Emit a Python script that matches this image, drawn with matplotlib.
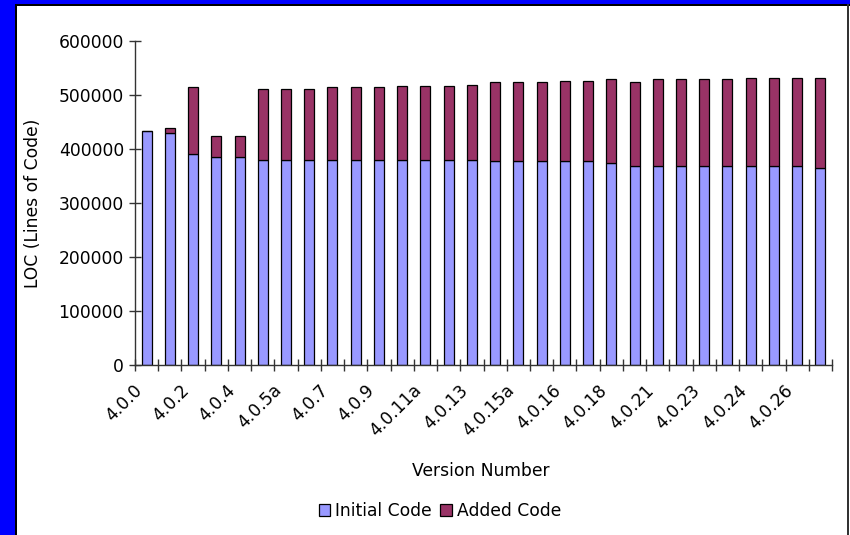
import matplotlib
matplotlib.use("Agg")
import matplotlib.pyplot as plt
from matplotlib.patches import Rectangle
from matplotlib.ticker import FixedLocator, FuncFormatter
from matplotlib.transforms import ScaledTranslation

# Release labels shown along the x axis (every other release is labelled)
tick_labels = ["4.0.0", "4.0.2", "4.0.4", "4.0.5a", "4.0.7", "4.0.9", "4.0.11a",
               "4.0.13", "4.0.15a", "4.0.16", "4.0.18", "4.0.21", "4.0.23",
               "4.0.24", "4.0.26"]

# Lines of code carried over from the initial code base, per release
initial_code = [434000, 429000, 390000, 385000, 385000, 380000, 380000, 380000,
                380000, 380000, 380000, 380000, 380000, 380000, 380000, 378000,
                378000, 378000, 378000, 378000, 375000, 368000, 368000, 368000,
                368000, 368000, 368000, 368000, 368000, 365000]

# Total lines of code per release
total_code = [434000, 439000, 514000, 424000, 424000, 512000, 512000, 511000,
              514000, 514000, 514000, 517000, 517000, 517000, 519000, 524000,
              524000, 524000, 526500, 526500, 529000, 524000, 529000, 529000,
              529000, 529000, 531500, 531500, 531500, 531500]

added_code = [t - i for t, i in zip(total_code, initial_code)]

W, H = 850, 535
fig = plt.figure(figsize=(W / 100, H / 100), dpi=100)
fig.patch.set_facecolor("white")

# Window-style frame around the chart area
fig.patches.append(Rectangle((0, 0), 15 / W, 1, transform=fig.transFigure,
                             facecolor="#0000FF", edgecolor="none", zorder=0))
fig.patches.append(Rectangle((0, 1 - 4 / H), 1, 4 / H, transform=fig.transFigure,
                             facecolor="#0000FF", edgecolor="none", zorder=0))
fig.patches.append(Rectangle((15 / W, 0), 2 / W, 1 - 4 / H, transform=fig.transFigure,
                             facecolor="black", edgecolor="none", zorder=0))
fig.patches.append(Rectangle((15 / W, 1 - 6 / H), 1, 2 / H, transform=fig.transFigure,
                             facecolor="black", edgecolor="none", zorder=0))
fig.patches.append(Rectangle((847 / W, 0), 2 / W, 1 - 4 / H, transform=fig.transFigure,
                             facecolor="#333333", edgecolor="none", zorder=0))

ax = fig.add_axes([135 / W, (H - 365) / H, 697 / W, 324 / H])
ax.set_facecolor("white")

x = list(range(len(initial_code)))
bar_w = 0.43
ax.bar(x, initial_code, width=bar_w, color="#9999FF", edgecolor="black",
       linewidth=0.9, label="Initial Code", zorder=2)
ax.bar(x, added_code, width=bar_w, bottom=initial_code, color="#993366",
       edgecolor="black", linewidth=0.9, label="Added Code", zorder=2)

ax.set_xlim(-0.5, len(x) - 0.5)
ax.set_ylim(0, 600000)

for side in ("top", "right"):
    ax.spines[side].set_visible(False)
for side in ("left", "bottom"):
    ax.spines[side].set_color("#333333")
    ax.spines[side].set_linewidth(1.0)

fs = 12.3
ax.yaxis.set_major_locator(FixedLocator(range(0, 600001, 100000)))
ax.yaxis.set_major_formatter(FuncFormatter(lambda v, p: f"{int(v)}"))
ax.tick_params(axis="y", direction="inout", length=8, width=1.0,
               color="#333333", labelsize=fs, pad=4)

ax.xaxis.set_major_locator(FixedLocator(x[::2]))
ax.set_xticklabels(tick_labels)
ax.xaxis.set_minor_locator(FixedLocator([i - 0.5 for i in range(len(x) + 1)]))
ax.tick_params(axis="x", which="major", length=0, labelsize=fs, pad=12)
ax.tick_params(axis="x", which="minor", direction="inout", length=9, width=1.0,
               color="#333333")
shift = ScaledTranslation(-7 / 100, -6 / 100, fig.dpi_scale_trans)
for lbl in ax.get_xticklabels():
    lbl.set_rotation(45)
    lbl.set_ha("right")
    lbl.set_va("center")
    lbl.set_rotation_mode("anchor")
    lbl.set_transform(lbl.get_transform() + shift)

ax.set_ylabel("LOC (Lines of Code)", fontsize=fs)
ax.yaxis.set_label_coords((42 - 135) / 697, 0.5)
ax.set_xlabel("Version Number", fontsize=fs)
ax.xaxis.set_label_coords((481 - 135) / 697, -(462 - 365) / 324)

handles, labels = ax.get_legend_handles_labels()
fig.legend(handles, labels, loc="center", bbox_to_anchor=(440 / W, 1 - 511 / H),
           ncol=2, frameon=False, fontsize=fs, handlelength=0.65, handleheight=0.65,
           handletextpad=0.3, columnspacing=0.5)

fig.savefig("out.png", dpi=100, facecolor="white")
